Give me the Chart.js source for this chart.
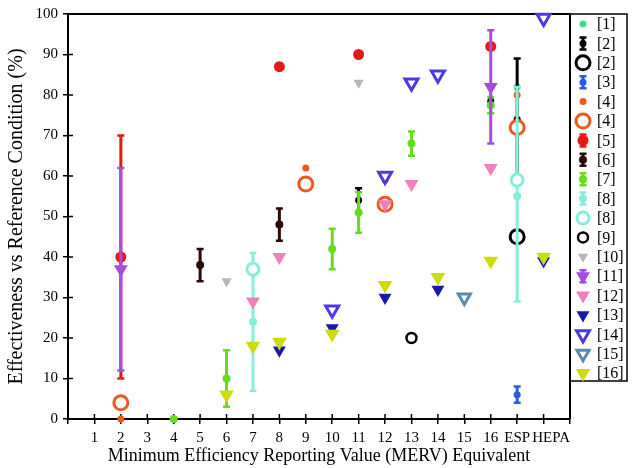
<!DOCTYPE html>
<html><head><meta charset="utf-8">
<script src="https://cdn.jsdelivr.net/npm/chart.js@4"></script>
<style>html,body{margin:0;padding:0;background:#fff}#wrap{width:632px;height:468px}</style>
</head><body><div id="wrap"><canvas id="c" width="632" height="468"></canvas></div>
<script>
// ---------- tick labels ----------
const xTickLabels = ['', '1','2','3','4','5','6','7','8','9','10','11','12','13','14','15','16','ESP','\u2003HEPA',''];
const yTicks = [0,10,20,30,40,50,60,70,80,90,100];

// ---------- series values (x = MERV index, 17 = ESP, 18 = HEPA) ----------
const ref1X = [17];            const ref1Y = [82];
const ref2eX = [11, 16, 17];   const ref2eY = [54, 78.5, 74];  const ref2eLo = [51, 78.5, 59]; const ref2eHi = [57, 78.5, 89];
const ref2oX = [17];           const ref2oY = [45];
const ref3X = [17];            const ref3Y = [6];   const ref3Lo = [4];  const ref3Hi = [8];
const ref4sX = [2, 9, 12, 17]; const ref4sY = [0, 62, 59, 80];
const ref4oX = [2, 9, 12, 17]; const ref4oY = [4, 58, 53, 72];
const ref5X = [2, 8, 11, 16];  const ref5Y = [40, 87, 90, 92]; const ref5Lo = [10, 87, 90, 92]; const ref5Hi = [70, 87, 90, 92];
const ref6X = [5, 8];          const ref6Y = [38, 48];  const ref6Lo = [34, 44]; const ref6Hi = [42, 52];
const ref7X = [4, 6, 10, 11, 13, 16]; const ref7Y = [0, 10, 42, 51, 68, 77.5];
const ref7Lo = [0, 3, 37, 46, 65, 75.5]; const ref7Hi = [0, 17, 47, 56, 71, 79.5];
const ref8eX = [7, 17];        const ref8eY = [24, 55]; const ref8eLo = [7, 29]; const ref8eHi = [41, 82];
const ref8oX = [7, 17];        const ref8oY = [37, 59];
const ref9X = [13];            const ref9Y = [20];
const ref10X = [6, 11];        const ref10Y = [34, 83];
const ref11X = [2, 16];        const ref11Y = [37, 82]; const ref11Lo = [12, 68]; const ref11Hi = [62, 96];
const ref12X = [7, 8, 12, 13, 16]; const ref12Y = [29, 40, 53, 58, 62];
const ref13X = [8, 10, 12, 14, 18]; const ref13Y = [17, 22.5, 30, 32, 39];
const ref14X = [10, 12, 13, 14, 18]; const ref14Y = [27, 60, 83, 85, 99];
const ref15X = [15];           const ref15Y = [30];
const ref16X = [6, 7, 8, 10, 12, 14, 16, 18]; const ref16Y = [6, 18, 19, 21, 33, 35, 39, 40];

const pts = (xs, ys) => xs.map((x, i) => ({x: x, y: ys[i]}));

// [label, color, style, radius, filled, borderWidth, points, errLo, errHi]
const series = [
  ['[1]',  '#4cd98a', 'circle',   3.5, true,  0, pts(ref1X, ref1Y)],
  ['[2]',  '#000000', 'circle',   3.5, true,  0, pts(ref2eX, ref2eY), ref2eLo, ref2eHi],
  ['[2]',  '#000000', 'circle',   7,   false, 3, pts(ref2oX, ref2oY)],
  ['[3]',  '#2a5ae8', 'circle',   3.5, true,  0, pts(ref3X, ref3Y), ref3Lo, ref3Hi],
  ['[4]',  '#ec5a22', 'circle',   3.5, true,  0, pts(ref4sX, ref4sY)],
  ['[4]',  '#ec5a22', 'circle',   7,   false, 3, pts(ref4oX, ref4oY)],
  ['[5]',  '#e81818', 'circle',   5.5, true,  0, pts(ref5X, ref5Y), ref5Lo, ref5Hi],
  ['[6]',  '#2a0a0a', 'circle',   4,   true,  0, pts(ref6X, ref6Y), ref6Lo, ref6Hi],
  ['[7]',  '#66dd1a', 'circle',   4,   true,  0, pts(ref7X, ref7Y), ref7Lo, ref7Hi],
  ['[8]',  '#86eedc', 'circle',   4,   true,  0, pts(ref8eX, ref8eY), ref8eLo, ref8eHi],
  ['[8]',  '#86eedc', 'circle',   6,   false, 3, pts(ref8oX, ref8oY)],
  ['[9]',  '#000000', 'circle',   5,   false, 2.5, pts(ref9X, ref9Y)],
  ['[10]', '#b4b8bc', 'triangle', 6,   true,  0, pts(ref10X, ref10Y)],
  ['[11]', '#a64de0', 'triangle', 8,   true,  0, pts(ref11X, ref11Y), ref11Lo, ref11Hi],
  ['[12]', '#f080bc', 'triangle', 8,   true,  0, pts(ref12X, ref12Y)],
  ['[13]', '#1a1aa8', 'triangle', 7.5, true,  0, pts(ref13X, ref13Y)],
  ['[14]', '#4a3ae0', 'triangle', 7.5, false, 3, pts(ref14X, ref14Y)],
  ['[15]', '#5a8ab0', 'triangle', 7,   false, 3, pts(ref15X, ref15Y)],
  ['[16]', '#ccdd0a', 'triangle', 8.5, true,  0, pts(ref16X, ref16Y)]
];

const N = series.length;
const datasets = series.map((s, i) => ({
  label: s[0],
  data: s[6],
  pointStyle: s[2],
  pointRadius: s[3],
  pointHoverRadius: s[3],
  pointRotation: s[2] === 'triangle' ? 180 : 0,
  backgroundColor: s[4] ? s[1] : '#ffffff',
  borderColor: s[1],
  pointBorderWidth: s[5],
  borderWidth: s[5],
  errLo: s[7], errHi: s[8], errColor: s[1],
  showLine: false,
  clip: false,
  order: N - i
}));

function drawMarker(ctx, style, x, y, r, fill, bw, color) {
  ctx.save();
  ctx.beginPath();
  if (style === 'circle') {
    ctx.arc(x, y, r, 0, Math.PI * 2);
  } else {
    ctx.moveTo(x - r * Math.sin(Math.PI / 3), y - r / 2);
    ctx.lineTo(x + r * Math.sin(Math.PI / 3), y - r / 2);
    ctx.lineTo(x, y + r);
    ctx.closePath();
  }
  ctx.fillStyle = fill ? color : '#ffffff';
  ctx.fill();
  if (bw > 0) { ctx.lineWidth = bw; ctx.strokeStyle = color; ctx.stroke(); }
  ctx.restore();
}

function drawBar(ctx, x, y1, y2, color) {
  ctx.save();
  ctx.strokeStyle = color;
  ctx.lineWidth = 3;
  ctx.beginPath(); ctx.moveTo(x, y1); ctx.lineTo(x, y2); ctx.stroke();
  ctx.lineWidth = 2.5;
  ctx.beginPath();
  ctx.moveTo(x - 3.5, y1); ctx.lineTo(x + 3.5, y1);
  ctx.moveTo(x - 3.5, y2); ctx.lineTo(x + 3.5, y2);
  ctx.stroke();
  ctx.restore();
}

const errPlugin = {
  id: 'errbars',
  beforeDatasetDraw(chart, args) {
    const ds = chart.data.datasets[args.index];
    if (!ds.errLo) return;
    const xs = chart.scales.x, ys = chart.scales.y;
    ds.data.forEach((p, i) => {
      const lo = ds.errLo[i], hi = ds.errHi[i];
      if (lo === hi) return;
      drawBar(chart.ctx, xs.getPixelForValue(p.x), ys.getPixelForValue(lo), ys.getPixelForValue(hi), ds.errColor);
    });
  }
};

const framePlugin = {
  id: 'frame',
  beforeDatasetsDraw(chart) {
    const ctx = chart.ctx, a = chart.chartArea;
    ctx.save();
    ctx.strokeStyle = '#000';
    ctx.lineWidth = 2;
    ctx.beginPath();
    ctx.moveTo(a.left, a.top); ctx.lineTo(a.right, a.top); ctx.lineTo(a.right, a.bottom);
    ctx.stroke();
    ctx.lineWidth = 1.5;
    ctx.beginPath();
    chart.scales.y.ticks.forEach(t => {
      const py = chart.scales.y.getPixelForValue(t.value);
      ctx.moveTo(a.left, py); ctx.lineTo(a.left + 5, py);
    });
    chart.scales.x.ticks.forEach(t => {
      const px = chart.scales.x.getPixelForValue(t.value);
      ctx.moveTo(px, a.bottom); ctx.lineTo(px, a.bottom - 5);
    });
    ctx.stroke();
    ctx.restore();
  }
};

const legendPlugin = {
  id: 'boxlegend',
  afterDraw(chart) {
    const ctx = chart.ctx, a = chart.chartArea;
    const left = a.right, top = a.top, right = 627, bottom = 381;
    ctx.save();
    ctx.strokeStyle = '#000';
    ctx.lineWidth = 1.5;
    ctx.strokeRect(left, top, right - left, bottom - top);
    ctx.font = '16px "Liberation Serif", "Times New Roman", serif';
    ctx.textBaseline = 'middle';
    ctx.textAlign = 'left';
    ctx.fillStyle = '#000';
    const y0 = 24, step = 19.4, ix = 583, tx = 597;
    series.forEach((s, i) => {
      const y = y0 + i * step;
      if (s[7]) drawBar(ctx, ix, y - 6, y + 6, s[1]);
      drawMarker(ctx, s[2], ix, y, s[3], s[4], s[5], s[1]);
      ctx.fillStyle = '#000';
      ctx.fillText(s[0], tx, y + 1);
    });
    ctx.restore();
  }
};

const serif = '"Liberation Serif", "Times New Roman", serif';

new Chart(document.getElementById('c'), {
  type: 'scatter',
  data: { datasets: datasets },
  plugins: [errPlugin, framePlugin, legendPlugin],
  options: {
    responsive: false,
    animation: false,
    devicePixelRatio: 1,
    layout: { padding: { top: 13, right: 62, left: 0, bottom: 0 } },
    plugins: { legend: { display: false }, tooltip: { enabled: false } },
    scales: {
      x: {
        type: 'linear', min: 0, max: 19,
        afterBuildTicks: s => { s.ticks = xTickLabels.map((l, i) => ({ value: i })); },
        afterFit: s => { s.height = 49; },
        ticks: { autoSkip: false, maxRotation: 0, padding: 5, color: '#000',
                 font: { family: serif, size: 15 },
                 callback: v => xTickLabels[v] },
        grid: { display: true, drawOnChartArea: false, drawTicks: true, tickLength: 5, color: '#000', lineWidth: 1.5 },
        border: { display: true, color: '#000', width: 2 },
        title: { display: true, text: 'Minimum Efficiency Reporting Value (MERV) Equivalent',
                 color: '#000', font: { family: serif, size: 18 }, padding: { top: 0, bottom: 1 } }
      },
      y: {
        min: 0, max: 100,
        afterBuildTicks: s => { s.ticks = yTicks.map(v => ({ value: v })); },
        afterFit: s => { s.width = 68; },
        ticks: { padding: 5, color: '#000', font: { family: serif, size: 15 } },
        grid: { display: true, drawOnChartArea: false, drawTicks: true, tickLength: 5, color: '#000', lineWidth: 1.5 },
        border: { display: true, color: '#000', width: 2 },
        title: { display: true, text: 'Effectiveness vs Reference Condition (%)',
                 color: '#000', font: { family: serif, size: 20 }, padding: { top: 5, bottom: 0 } }
      }
    }
  }
});
</script>
</body></html>
